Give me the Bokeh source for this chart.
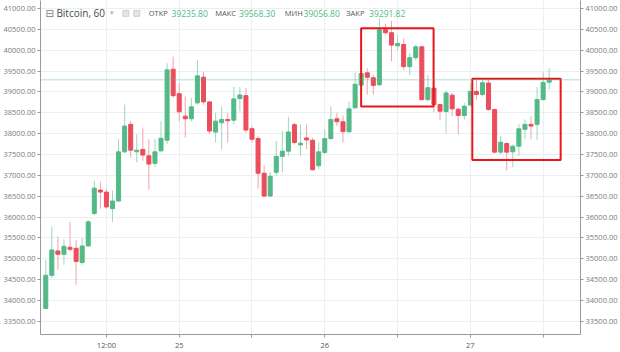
from bokeh.plotting import figure
from bokeh.models import (Range1d, LinearAxis, FixedTicker, Label, ColumnDataSource,
                          PrintfTickFormatter, Span)
from bokeh.embed import file_html
from bokeh.resources import INLINE

# ---- data: hourly candles, hour index counted from the 24th 00:00 ----
hours = list(range(2, 86))
opens = [33810, 34605, 35189, 35110, 35277, 35253, 34913, 35308, 36085, 36648,
         36600, 36203, 36386, 37565, 38223, 37565, 37622, 37470, 37289, 37589,
         37843, 39547, 38960, 38420, 38358, 38739, 39356, 38762, 38040, 38263,
         38342, 38325, 38841, 38912, 38121, 37883, 37052, 36505, 37075, 37456,
         37581, 38216, 37731, 37898, 37843, 37232, 37551, 37883, 38358, 38287,
         38045, 38620, 39166, 39459, 39340, 39173, 40492, 40421, 40107, 40140,
         39608, 39822, 40083, 38817, 39090, 38698, 38532, 38924, 38587, 38437,
         38686, 39014, 38941, 39214, 38579, 37558, 37765, 37565, 37700, 38104,
         38223, 38223, 38817, 39235.80]
highs = [34975, 35769, 35531, 35467, 35887, 35450, 35491, 35920, 36876, 36852,
         36680, 36638, 37867, 38698, 38301, 37985, 38145, 37867, 37867, 38301,
         39689, 39846, 39214, 38895, 38857, 39767, 39489, 38780, 38501, 38658,
         38500, 39133, 39119, 39095, 38183, 37945, 37232, 37075, 37826, 38064,
         38406, 38263, 38223, 38223, 37907, 37788, 38104, 38658, 38500, 38440,
         38777, 39470, 39489, 39570, 39411, 40758, 40639, 40700, 40361, 40283,
         39927, 40124, 40100, 39411, 39292, 38720, 39031, 38976, 38620, 38739,
         39214, 39292, 39292, 39304, 38600, 37945, 37790, 37740, 38223, 38342,
         38420, 39114, 39470, 39568.30]
lows = [33795, 34540, 34737, 34856, 35182, 34381, 34856, 35290, 36045, 36203,
        36200, 35887, 36370, 37540, 37432, 37313, 37351, 36655, 37194, 37560,
        37748, 38857, 38301, 37907, 38294, 38698, 38698, 37985, 37788, 37629,
        37788, 38223, 38539, 38026, 37788, 36679, 36481, 36481, 36995, 37075,
        37470, 37748, 37470, 37629, 37113, 37154, 37510, 37850, 38183, 37788,
        38021, 38596, 38936, 38936, 38936, 39150, 40361, 39740, 40005, 39530,
        39411, 39767, 38795, 38770, 38520, 38318, 38009, 38420, 37985, 38342,
        38660, 38817, 38900, 38550, 37530, 37510, 37113, 37194, 37470, 37867,
        37867, 37850, 38790, 39056.80]
closes = [34605, 35213, 35110, 35301, 35230, 34937, 35308, 35887, 36695, 36600,
          36244, 36386, 37565, 38183, 37605, 37605, 37487, 37273, 37565, 37890,
          39530, 38912, 38525, 38358, 38644, 39387, 38762, 38064, 38301, 38342,
          38310, 38834, 38929, 38088, 37867, 37052, 36505, 36980, 37456, 37581,
          38040, 37788, 37772, 37850, 37137, 37565, 37883, 38342, 38287, 38050,
          38596, 39185, 39440, 39352, 39157, 40492, 40421, 40124, 40164, 39608,
          39822, 40083, 38817, 39102, 38698, 38539, 38976, 38596, 38437, 38658,
          39014, 38941, 39221, 38579, 37558, 37795, 37558, 37700, 38116, 38223,
          38183, 38817, 39228, 39291.82]

price_ticks = list(range(33500, 41001, 500))
time_ticks = [12, 24, 36, 48, 60, 72, 84]
time_labels = ["12:00", "25", "", "26", "", "27", ""]

symbol = "Bitcoin, 60"
ohlc_names = ["ОТКР", "МАКС", "МИН", "ЗАКР"]
ohlc_values = ["39235.80", "39568.30", "39056.80", "39291.82"]
last_price = 39291.82

# ---- styling ----
UP = "#53b987"
DOWN = "#eb4d5c"
UP_WICK = "#9fd6bb"
DOWN_WICK = "#f2a3aa"
GRID = "#eceff2"
AXIS = "#9a9a9a"
LABEL = "#7a7a7a"

W, H = 620, 352
FL, FR, FT, FB = 37, 581, 0, 337   # frame edges in pixels
X0, X1 = 1.13, 90.16
Y0, Y1 = 33186, 41193

def hx(px):
    return X0 + (px - FL) / (FR - FL) * (X1 - X0)

def vy(py):
    return Y1 - (py - FT) / (FB - FT) * (Y1 - Y0)

p = figure(width=W, height=H, output_backend="svg", toolbar_location=None,
           x_range=Range1d(X0, X1), y_range=Range1d(Y0, Y1),
           min_border_left=FL, min_border_right=W - FR, min_border_top=FT,
           min_border_bottom=H - FB)
p.outline_line_color = None
p.background_fill_color = "white"
p.border_fill_color = "white"

# axes
p.yaxis.ticker = FixedTicker(ticks=price_ticks)
right_axis = LinearAxis(ticker=FixedTicker(ticks=price_ticks))
p.add_layout(right_axis, "right")
for ax in [p.yaxis[0], right_axis]:
    ax.formatter = PrintfTickFormatter(format="%.2f")
    ax.major_label_text_font = "Open Sans"
    ax.major_label_text_font_size = "7.5px"
    ax.major_label_text_color = LABEL
    ax.axis_line_color = AXIS
    ax.major_tick_line_color = AXIS
    ax.major_tick_out = 3
    ax.major_tick_in = 0
    ax.minor_tick_line_color = None
    ax.major_label_standoff = 2

p.xaxis.ticker = FixedTicker(ticks=time_ticks)
p.xaxis.major_label_overrides = {t: l for t, l in zip(time_ticks, time_labels)}
p.xaxis.major_label_text_font = "Open Sans"
p.xaxis.major_label_text_font_size = "7.5px"
p.xaxis.major_label_text_color = "#555555"
p.xaxis.axis_line_color = AXIS
p.xaxis.major_tick_line_color = AXIS
p.xaxis.major_tick_out = 3
p.xaxis.major_tick_in = 0
p.xaxis.minor_tick_line_color = None
p.xaxis.major_label_standoff = 2

p.xgrid.grid_line_color = GRID
p.ygrid.grid_line_color = GRID

# price line
p.add_layout(Span(location=last_price, dimension="width", line_color=UP,
                  line_alpha=0.45, line_width=1))

# candles
up = [c >= o for o, c in zip(opens, closes)]
src = ColumnDataSource(dict(
    h=hours, o=opens, hi=highs, lo=lows, c=closes,
    top=[max(o, c) for o, c in zip(opens, closes)],
    bottom=[min(o, c) for o, c in zip(opens, closes)],
    color=[UP if u else DOWN for u in up],
    wick=[UP_WICK if u else DOWN_WICK for u in up],
))
p.segment(x0="h", y0="lo", x1="h", y1="hi", line_color="wick", line_width=1, source=src)
p.vbar(x="h", top="top", bottom="bottom", width=0.66, fill_color="color",
       line_color="color", line_width=1, source=src)

# highlight boxes (annotation positions in pixels)
boxes = [(360, 433, 28, 107), (472, 561, 79, 161)]
p.quad(left=[hx(b[0]) for b in boxes], right=[hx(b[1]) for b in boxes],
       top=[vy(b[2]) for b in boxes], bottom=[vy(b[3]) for b in boxes],
       fill_color=None, line_color="#e8161c", line_width=2)

# last price tag on right axis
p.add_layout(Label(x=hx(582), y=last_price, text=f"{last_price:.2f}",
                   text_font="Open Sans", text_font_size="8px", text_color="white",
                   text_baseline="middle", background_fill_color=UP,
                   padding=3))

# header legend
hy = vy(13)
p.add_layout(Label(x=hx(42), y=hy, text="⊟", text_font="DejaVu Sans",
                   text_font_size="10px", text_color="#777777", text_baseline="middle"))
p.add_layout(Label(x=hx(53), y=hy, text=symbol, text_font="Open Sans",
                   text_font_size="10px", text_color="#4a4a4a", text_baseline="middle"))
p.add_layout(Label(x=hx(107), y=hy, text="▾", text_font="DejaVu Sans",
                   text_font_size="7px", text_color="#b0b0b0", text_baseline="middle"))
icon_px = [(120, 126), (131, 137)]
p.quad(left=[hx(a) for a, b in icon_px], right=[hx(b) for a, b in icon_px],
       top=[vy(10)] * 2, bottom=[vy(16)] * 2,
       fill_color="#e4e4e4", line_color="#cfcfcf", line_width=1)
name_px = [146, 213, 283, 345]
val_px = [169, 237, 302, 368]
for nm, vl, nx, vx in zip(ohlc_names, ohlc_values, name_px, val_px):
    p.add_layout(Label(x=hx(nx), y=hy, text=nm, text_font="Open Sans",
                       text_font_size="7.5px", text_color="#555555", text_baseline="middle"))
    p.add_layout(Label(x=hx(vx), y=hy, text=vl, text_font="Open Sans",
                       text_font_size="8.5px", text_color=UP, text_baseline="middle"))

open("out.html", "w").write(file_html(p, INLINE))
